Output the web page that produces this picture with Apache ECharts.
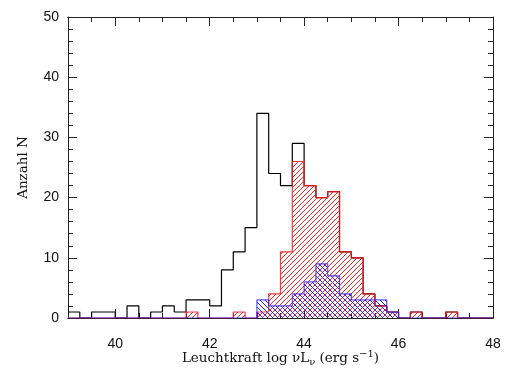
<!DOCTYPE html>
<html>
<head>
<meta charset="utf-8">
<script src="https://cdn.jsdelivr.net/npm/echarts@6/dist/echarts.min.js"></script>
<style>html,body{margin:0;padding:0;background:#fff}#c{width:505px;height:370px}</style>
</head>
<body>
<div id="c"></div>
<script>
// Bin left edges (bin width 0.25, from 39 to 48)
const binStart = 39, binWidth = 0.25, binCount = 36, xMax = 48;
const blackCounts = [1,0,1,1,0,2,0,1,2,1,3,3,2,8,11,15,34,24,22,29,22,20,21,11,10,4,2,1,0,1,0,0,1,0,0,0];
const redCounts   = [0,0,0,0,0,0,0,0,0,0,1,0,0,0,1,0,1,4,11,26,22,20,21,11,10,4,2,1,0,1,0,0,1,0,0,0];
const blueCounts  = [0,0,0,0,0,0,0,0,0,0,0,0,0,0,0,0,3,2,2,4,6,9,7,4,3,3,3,1,0,0,0,0,0,0,0,0];
const xLabelValues = [40,42,44,46,48];
const yLabelValues = [0,10,20,30,40,50];

function steps(counts){
  const d = counts.map((v,i)=>[binStart + i*binWidth, v]);
  d.push([xMax, counts[counts.length-1]]);
  return d;
}
function hatch(color, dir){
  const p = 5, c = document.createElement('canvas');
  c.width = p; c.height = p;
  const g = c.getContext('2d');
  g.strokeStyle = color; g.lineWidth = 1;
  g.beginPath();
  if (dir > 0) { g.moveTo(-1, p+1); g.lineTo(p+1, -1); g.moveTo(-1,1); g.lineTo(1,-1); g.moveTo(p-1,p+1); g.lineTo(p+1,p-1); }
  else { g.moveTo(-1, -1); g.lineTo(p+1, p+1); g.moveTo(p-1,-1); g.lineTo(p+1,1); g.moveTo(-1,p-1); g.lineTo(1,p+1); }
  g.stroke();
  return c;
}
const labelFont = {fontFamily:'Liberation Sans', fontSize:14, color:'#111'};
const axisLineStyle = {color:'#222', width:1};
function xAx(pos, major, labels){
  return {
    type:'value', position:pos, min:39, max:48, interval:0.5,
    axisLine:{show:true, onZero:false, lineStyle:axisLineStyle},
    axisTick:{show:true, inside:true, length: major?9:5, lineStyle:axisLineStyle, customValues: major?xLabelValues:undefined},
    axisLabel: labels ? Object.assign({show:true, margin:19, customValues:xLabelValues}, labelFont) : {show:false},
    splitLine:{show:false},
    name: labels ? '{a|Leuchtkraft log νL}{s|ν}{a| (erg s}{p|−1}{a|)}' : '',
    nameLocation:'middle', nameGap:31, nameMoveOverlap:false,
    nameTextStyle:{ rich:{
      a:{fontFamily:'DejaVu Serif', fontSize:13.5, color:'#111', lineHeight:18},
      s:{fontFamily:'DejaVu Serif', fontSize:10, color:'#111', verticalAlign:'bottom', lineHeight:18},
      p:{fontFamily:'DejaVu Serif', fontSize:10, color:'#111', verticalAlign:'top', lineHeight:18}
    }}
  };
}
function yAx(pos, labels){
  return {
    type:'value', position:pos, min:0, max:50, interval:10,
    axisLine:{show:true, onZero:false, lineStyle:axisLineStyle},
    axisTick:{show:true, inside:true, length:9, lineStyle:axisLineStyle},
    minorTick:{show:true, splitNumber:5, length:5, lineStyle:axisLineStyle},
    axisLabel: labels ? Object.assign({show:true, margin:9}, labelFont) : {show:false},
    splitLine:{show:false},
    name: labels ? 'Anzahl N' : '',
    nameLocation:'middle', nameGap:38, nameRotate:90, nameMoveOverlap:false,
    nameTextStyle:{fontFamily:'DejaVu Serif', fontSize:13.5, color:'#111'}
  };
}
const chart = echarts.init(document.getElementById('c'), null, {renderer:'canvas'});
chart.setOption({
  animation:false,
  grid:{left:68, right:12, top:17, bottom:52, containLabel:false, outerBoundsMode:'none'},
  xAxis:[xAx('bottom', false, true), xAx('bottom', true, false), xAx('top', false, false), xAx('top', true, false)],
  yAxis:[yAx('left', true), yAx('right', false)],
  series:[
    {type:'line', name:'alle', step:'end', data:steps(blackCounts), symbol:'none',
     lineStyle:{color:'#000', width:1.2}, z:3},
    {type:'line', name:'rot', step:'end', data:steps(redCounts), symbol:'none',
     lineStyle:{color:'#ff1a1a', width:1.2, opacity:0.85},
     areaStyle:{color:{image:hatch('#ff2020', 1), repeat:'repeat'}, opacity:1}, z:4},
    {type:'line', name:'blau', step:'end', data:steps(blueCounts), symbol:'none',
     lineStyle:{color:'#2020ff', width:1.2, opacity:0.75},
     areaStyle:{color:{image:hatch('#2020ff', -1), repeat:'repeat'}, opacity:1}, z:5}
  ]
});
</script>
</body>
</html>
